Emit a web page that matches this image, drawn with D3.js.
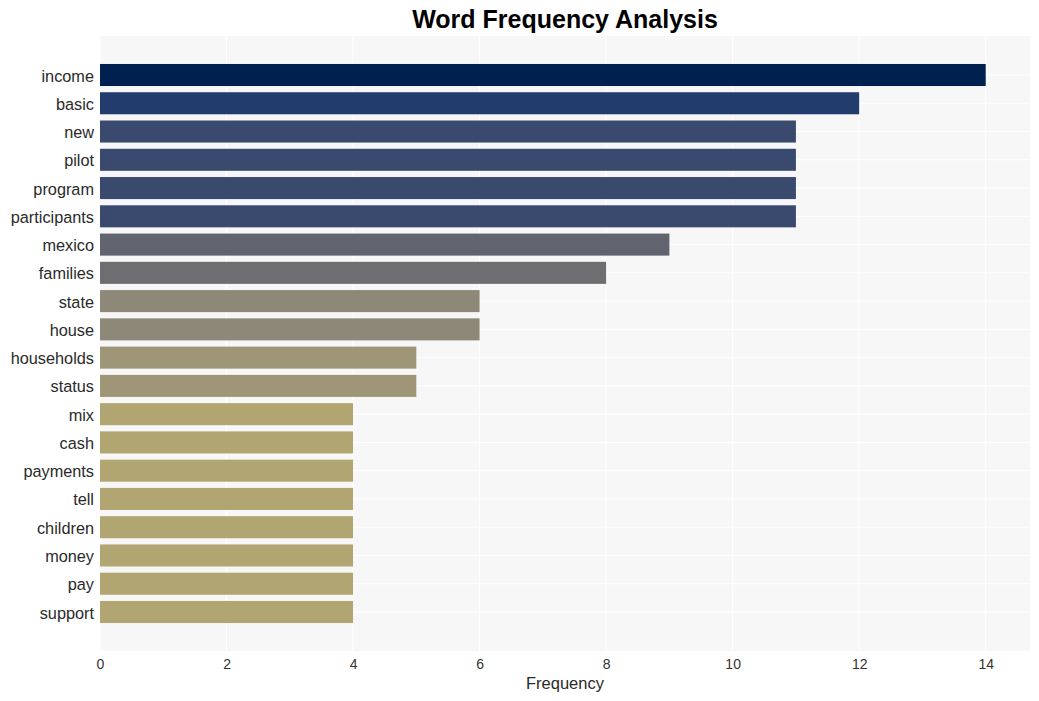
<!DOCTYPE html>
<html><head><meta charset="utf-8">
<script src="https://cdn.jsdelivr.net/npm/d3@7"></script>
<style>body{margin:0;background:#fff}svg{display:block}</style>
</head><body>
<script>
const categories = ["income","basic","new","pilot","program","participants","mexico","families","state","house","households","status","mix","cash","payments","tell","children","money","pay","support"];
const values = [14,12,11,11,11,11,9,8,6,6,5,5,4,4,4,4,4,4,4,4];
const xTicks = [0,2,4,6,8,10,12,14];
const chartTitle = "Word Frequency Analysis";
const xTitle = "Frequency";

const W = 1039, H = 701;
const pLeft = 100, pRight = 1030, pTop = 36, pBottom = 651;
const svg = d3.select("body").append("svg").attr("width", W).attr("height", H);

const x = d3.scaleLinear().domain([0, 14.7]).range([pLeft, pRight]);
const step = (612 - 75) / (categories.length - 1);
const y = d3.scaleBand().domain(categories)
  .range([75 - step/2, 612 + step/2]).paddingInner(0.22).paddingOuter(0.11);

const color = d3.scaleLinear()
  .domain([4,5,6,8,9,11,12,14])
  .range(["#b1a571","#9f9677","#8e8878","#6e6e72","#61636e","#3a4a6e","#233c6e","#00204f"]);

svg.append("rect").attr("x", pLeft).attr("y", pTop).attr("width", pRight-pLeft).attr("height", pBottom-pTop).attr("fill", "#f7f7f7");

svg.append("g").selectAll("line").data(xTicks).join("line")
  .attr("x1", d => x(d)).attr("x2", d => x(d)).attr("y1", pTop).attr("y2", pBottom)
  .attr("stroke", "#ffffff").attr("stroke-width", 1);
svg.append("g").selectAll("line").data(categories).join("line")
  .attr("x1", pLeft).attr("x2", pRight)
  .attr("y1", d => y(d) + y.bandwidth()/2).attr("y2", d => y(d) + y.bandwidth()/2)
  .attr("stroke", "#ffffff").attr("stroke-width", 1);

svg.append("g").selectAll("rect").data(categories).join("rect")
  .attr("x", x(0)).attr("y", d => y(d))
  .attr("width", (d,i) => x(values[i]) - x(0))
  .attr("height", y.bandwidth())
  .attr("fill", (d,i) => color(values[i]));

const font = "'Liberation Sans', Arial, sans-serif";
const yAxis = d3.axisLeft(y).tickSize(0).tickPadding(6);
const gy = svg.append("g").attr("transform", `translate(${pLeft},0)`).call(yAxis);
gy.select(".domain").remove();
gy.selectAll("text").attr("font-family", font).attr("font-size", 16.3).attr("fill", "#2a2a2a").attr("dy", "0.4em");

const xAxis = d3.axisBottom(x).tickValues(xTicks).tickSize(0).tickPadding(8).tickFormat(d3.format("d"));
const gx = svg.append("g").attr("transform", `translate(0,${pBottom})`).call(xAxis);
gx.select(".domain").remove();
gx.selectAll("text").attr("font-family", font).attr("font-size", 14).attr("fill", "#333");

svg.append("text").attr("x", (pLeft+pRight)/2).attr("y", 689).attr("text-anchor", "middle")
  .attr("font-family", font).attr("font-size", 16.5).attr("fill", "#2a2a2a").text(xTitle);

svg.append("text").attr("x", (pLeft+pRight)/2).attr("y", 28).attr("text-anchor", "middle")
  .attr("font-family", font).attr("font-size", 25).attr("font-weight", "bold").attr("fill", "#000").text(chartTitle);
</script>
</body></html>
